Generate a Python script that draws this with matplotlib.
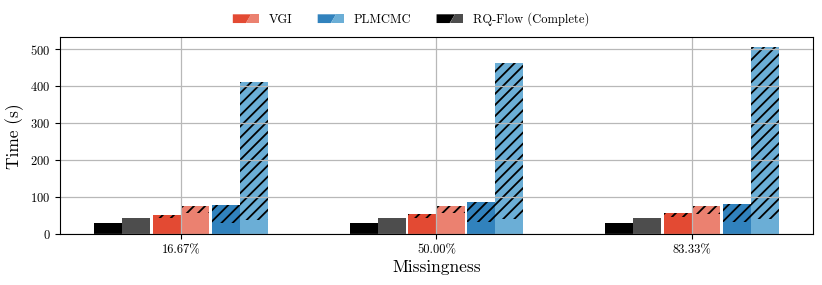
import numpy as np
import matplotlib
matplotlib.use("Agg")
import matplotlib.pyplot as plt
from matplotlib.patches import Polygon
from matplotlib.legend_handler import HandlerBase

plt.rcParams['font.family'] = ['cmr10', 'DejaVu Serif']
plt.rcParams['axes.formatter.use_mathtext'] = True
plt.rcParams['mathtext.fontset'] = 'cm'
plt.rcParams['hatch.linewidth'] = 1.3

groups = ['16.67%', '50.00%', '83.33%']

# RQ-Flow (Complete), two variants, no hatched part
rq_dark = [31, 31, 31]
rq_light = [43, 43, 43]
# VGI: unhatched base and total height
vgi_dark_base = [43, 43, 47]
vgi_dark_total = [51, 54, 57]
vgi_light_base = [56, 56, 54]
vgi_light_total = [77, 77, 77]
# PLMCMC
plm_dark_base = [30, 33, 33]
plm_dark_total = [78, 86, 80]
plm_light_base = [38, 40, 40]
plm_light_total = [411, 462, 507]

c_rq = ('#000000', '#4d4d4d')
c_vgi = ('#e34a33', '#eb8170')
c_plm = ('#3182bd', '#6baed6')


class SplitHandler(HandlerBase):
    def __init__(self, c1, c2):
        super().__init__()
        self.c1 = c1
        self.c2 = c2

    def create_artists(self, legend, orig_handle, x0, y0, w, h, fontsize, trans):
        left = Polygon([(x0, y0), (x0 + 0.5 * w, y0), (x0 + 0.7 * w, y0 + h), (x0, y0 + h)],
                       closed=True, facecolor=self.c1, edgecolor='none', transform=trans)
        right = Polygon([(x0 + 0.5 * w, y0), (x0 + w, y0), (x0 + w, y0 + h), (x0 + 0.7 * w, y0 + h)],
                        closed=True, facecolor=self.c2, edgecolor='none', transform=trans)
        return [left, right]


fig = plt.figure(figsize=(8.22, 2.85), dpi=100)
ax = fig.add_axes([0.073, 0.179, 0.916, 0.690])

x = np.arange(len(groups))
w = 0.11
off = 0.23


def stacked(xpos, base, total, color):
    base = np.array(base)
    total = np.array(total)
    ax.bar(xpos, base, w, color=color, linewidth=0)
    ax.bar(xpos, total - base, w, bottom=base, color=color,
           edgecolor='black', linewidth=0, hatch='///')


ax.bar(x - off - w / 2, rq_dark, w, color=c_rq[0], linewidth=0)
ax.bar(x - off + w / 2, rq_light, w, color=c_rq[1], linewidth=0)
stacked(x - w / 2, vgi_dark_base, vgi_dark_total, c_vgi[0])
stacked(x + w / 2, vgi_light_base, vgi_light_total, c_vgi[1])
stacked(x + off - w / 2, plm_dark_base, plm_dark_total, c_plm[0])
stacked(x + off + w / 2, plm_light_base, plm_light_total, c_plm[1])

ax.set_xticks(x)
ax.set_xticklabels(groups, fontsize=9)
ax.tick_params(axis='y', labelsize=9)
ax.set_yticks([0, 100, 200, 300, 400, 500])
ax.grid(True, color='#b8b8b8', linewidth=0.9)
ax.set_xlabel('Missingness', fontsize=12.5, labelpad=3)
ax.set_ylabel('Time (s)', fontsize=12.5)

h1 = plt.Rectangle((0, 0), 1, 1)
h2 = plt.Rectangle((0, 0), 1, 1)
h3 = plt.Rectangle((0, 0), 1, 1)
fig.legend([h1, h2, h3], ['VGI', 'PLMCMC', 'RQ-Flow (Complete)'],
           handler_map={h1: SplitHandler(*c_vgi), h2: SplitHandler(*c_plm), h3: SplitHandler(*c_rq)},
           loc='upper center', bbox_to_anchor=(0.5, 0.995), ncol=3, frameon=False,
           fontsize=9, handlelength=2.1, handleheight=0.7, handletextpad=0.8, columnspacing=2.0)

fig.savefig('out.png', dpi=100)
